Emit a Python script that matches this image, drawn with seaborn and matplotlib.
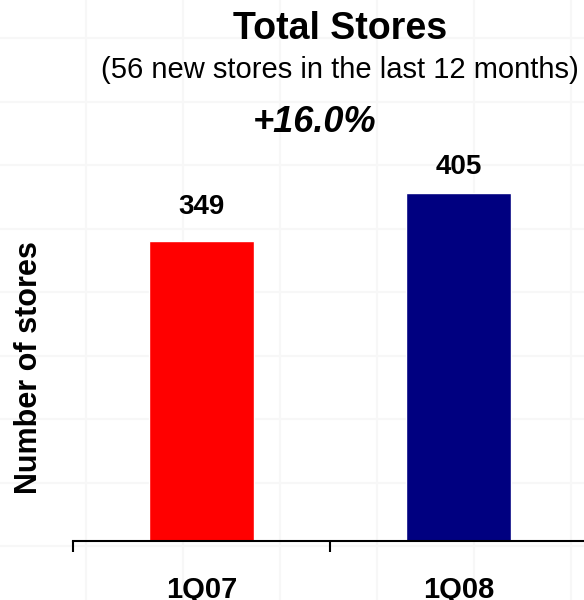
import numpy as np
import matplotlib
matplotlib.use('Agg')
import matplotlib.pyplot as plt
import pandas as pd
import seaborn as sns
from matplotlib.lines import Line2D

# Data
quarters = ['1Q07', '1Q08']
stores = [349, 405]
bar_colors = ['#FF0000', '#000080']
title = 'Total Stores'
subtitle = '(56 new stores in the last 12 months)'
growth = '+16.0%'

DF = pd.DataFrame({'quarter': quarters, 'stores': stores})

sns.set_theme(style='white')
plt.rcParams['font.family'] = ['Liberation Sans', 'DejaVu Sans']
plt.rcParams['text.color'] = 'black'
plt.rcParams['axes.labelcolor'] = 'black'
plt.rcParams['xtick.color'] = 'black'

fig = plt.figure(figsize=(5.84, 6.0), dpi=100)

# faint slide background grid
for yy in np.arange(38, 600, 63.5):
    fig.add_artist(Line2D([0, 1], [1 - yy / 600] * 2, color='#f7f7f7', lw=1.5, zorder=0))
for xx in np.arange(86, 584, 97):
    fig.add_artist(Line2D([xx / 584] * 2, [0, 1], color='#f7f7f7', lw=1.5, zorder=0))

ax = fig.add_axes([73 / 584, 59 / 600, 514 / 584, 441 / 600])
ax.patch.set_alpha(0)

sns.barplot(data=DF, x='quarter', y='stores', hue='quarter', palette=bar_colors,
            width=0.41, legend=False, saturation=1, ax=ax)

ax.set_xlim(-0.5, 1.5)
ax.set_ylim(0, 513)

# value labels over the bars
ax.bar_label(ax.containers[0], fmt='%d', padding=15, fontsize=20, fontweight='bold', color='black')
ax.bar_label(ax.containers[1], fmt='%d', padding=9.5, fontsize=20, fontweight='bold', color='black')

# axis styling
for side in ['top', 'right', 'left']:
    ax.spines[side].set_visible(False)
ax.spines['bottom'].set_color('black')
ax.spines['bottom'].set_linewidth(1.5)
ax.set_yticks([])
ax.set_xticks([-0.5, 0.5, 1.5], minor=True)
ax.tick_params(axis='x', which='minor', bottom=True, direction='out', length=8, width=1.5, color='black')
ax.tick_params(axis='x', which='major', length=0, pad=25, labelcolor='black')
for lbl in ax.get_xticklabels():
    lbl.set_fontsize(21)
    lbl.set_fontweight('bold')
ax.set_xlabel('')
ax.set_ylabel('Number of stores', fontsize=22, fontweight='bold', color='black')
ax.yaxis.set_label_coords((29 - 73) / 514, (541 - 368) / 441)
ax.yaxis.label.set_va('center')

# titles
fig.text(340 / 584, 1 - 29 / 600, title, ha='center', va='center', fontsize=27, fontweight='bold')
fig.text(340 / 584, 1 - 70 / 600, subtitle, ha='center', va='center', fontsize=21)
fig.text(315 / 584, 1 - 122 / 600, growth, ha='center', va='center', fontsize=26,
         fontweight='bold', fontstyle='italic')

fig.savefig('out.png', dpi=100)
